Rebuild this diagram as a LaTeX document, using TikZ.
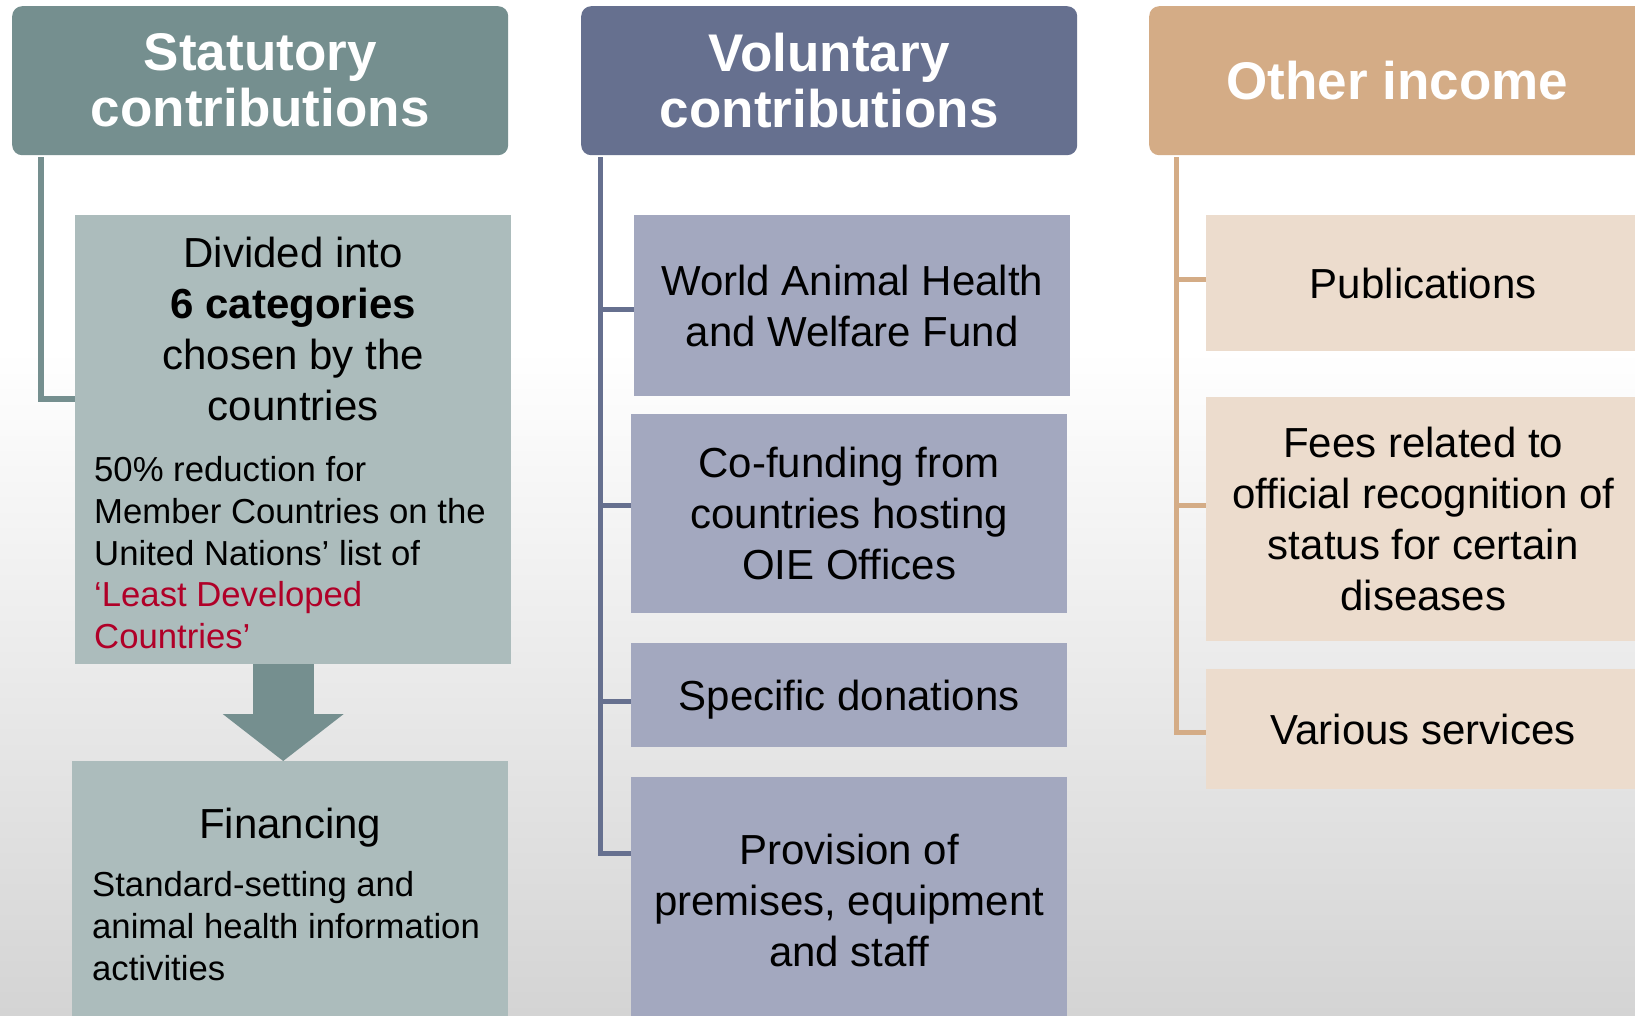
\documentclass[tikz,border=0pt]{standalone}
\usepackage{fontspec}
\setmainfont{Liberation Sans}
\usetikzlibrary{arrows.meta}

\definecolor{statdark}{RGB}{117,143,143}
\definecolor{statlight}{RGB}{172,188,188}
\definecolor{voldark}{RGB}{102,112,143}
\definecolor{vollight}{RGB}{163,168,191}
\definecolor{othdark}{RGB}{212,172,134}
\definecolor{othlight}{RGB}{236,220,205}
\definecolor{ldcred}{RGB}{176,0,40}
\definecolor{bggray}{RGB}{212,212,212}
\newcommand\smalltext{\fontsize{34.7}{41.7}\selectfont}

\begin{document}
\begin{tikzpicture}[x=1pt, y=-1pt,
    head/.style={rounded corners=10pt, anchor=north west, inner sep=0pt, minimum width=496pt,
      minimum height=149pt, align=center, text=white, font=\fontsize{53}{56}\selectfont\bfseries},
    box/.style={anchor=north west, inner sep=0pt, minimum width=436pt, align=center,
      font=\fontsize{42}{51}\selectfont},
    twig/.style={line width=5pt}]
  \useasboundingbox (0,0) rectangle (1635,1015);
  \fill[white] (0,0) rectangle (1635,350);
  \shade[top color=white, bottom color=bggray] (0,350) rectangle (1635,1015);

  % column heads
  \node[head, fill=statdark] (stat) at (12,6) {Statutory\\contributions};
  \node[head, fill=voldark] (vol) at (581,6) {Voluntary\\contributions};
  \node[head, fill=othdark] (oth) at (1149,6) {Other income};

  % statutory
  \node[box, fill=statlight, minimum height=449pt] (divided) at (75,215) {\parbox{398pt}{\vspace*{6pt}\centering
    Divided into\\ \textbf{6 categories}\\ chosen by the\\ countries\par\vspace{20pt}
    \raggedright\smalltext 50\% reduction for\\ Member Countries on the\\ United Nations’ list of\\
    {\color{ldcred}‘Least Developed\\ Countries’}}};
  \node[box, fill=statlight, minimum height=266pt] (finance) at (72,761) {\parbox{396pt}{\centering
    Financing\par\vspace{17pt}
    \raggedright\smalltext Standard-setting and\\ animal health information\\ activities}};

  % voluntary
  \node[box, fill=vollight, minimum height=181pt] (fund) at (634,215) {World Animal Health\\and Welfare Fund};
  \node[box, fill=vollight, minimum height=199pt] (cofund) at (631,414) {Co-funding from\\countries hosting\\OIE Offices};
  \node[box, fill=vollight, minimum height=104pt, text depth=0pt] (donat) at (631,643) {Specific donations};
  \node[box, fill=vollight, minimum height=246pt] (premis) at (631,777) {Provision of\\premises, equipment\\and staff};

  % other income
  \node[box, fill=othlight, minimum width=434pt, minimum height=136pt] (publ) at (1206,215) {Publications};
  \node[box, fill=othlight, minimum width=434pt, minimum height=244pt] (fees) at (1206,397) {Fees related to\\official recognition of\\status for certain\\diseases};
  \node[box, fill=othlight, minimum width=434pt, minimum height=120pt] (servic) at (1206,669) {Various services};

  \coordinate (stop) at (41,157);
  \coordinate (vtop) at (600,157);
  \coordinate (otop) at (1176,157);

  \path[twig, line width=6pt, draw=statdark]
    (stop) edge[to path={|- (\tikztotarget)}] ([yshift=-184pt]divided.north west);
  \path[twig, draw=voldark, to path={|- (\tikztotarget)}]
    (vtop) edge ([yshift=-4pt]fund.west) edge ([yshift=8pt]cofund.west)
           edge ([yshift=-6pt]donat.west) edge ([yshift=-76pt]premis.north west);
  \path[twig, draw=othdark, to path={|- (\tikztotarget)}]
    (otop) edge ([yshift=4pt]publ.west) edge ([yshift=14pt]fees.west) edge ([yshift=-3pt]servic.west);

  % block arrow
  \draw[-{Triangle[length=47pt, width=121pt, line width=0pt]}, line width=61pt, statdark]
    ([xshift=-10pt]divided.south) -- ([xshift=-10pt]divided.south |- finance.north);
\end{tikzpicture}
\end{document}
